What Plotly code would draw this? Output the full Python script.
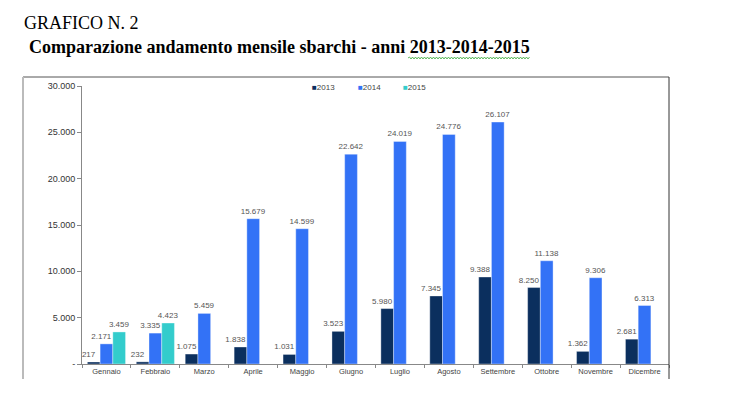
import plotly.graph_objects as go

# ---- data ----
months = ["Gennaio", "Febbraio", "Marzo", "Aprile", "Maggio", "Giugno",
          "Luglio", "Agosto", "Settembre", "Ottobre", "Novembre", "Dicembre"]
y2013 = [217, 232, 1075, 1838, 1031, 3523, 5980, 7345, 9388, 8250, 1362, 2681]
y2014 = [2171, 3335, 5459, 15679, 14599, 22642, 24019, 24776, 26107, 11138, 9306, 6313]
y2015 = [3459, 4423, None, None, None, None, None, None, None, None, None, None]
series_names = ["2013", "2014", "2015"]
series_colors = ["#0B2F5E", "#3372F6", "#33CCCC"]
ytick_vals = [0, 5000, 10000, 15000, 20000, 25000, 30000]
ytick_text = ["-", "5.000", "10.000", "15.000", "20.000", "25.000", "30.000"]

# page body has an 8px margin; figure is laid out in page (screen) pixels
OFF = 8
W, H = 737 - OFF, 399 - OFF
ML, MR, MT, MB = 82 - OFF, 68, 86 - OFF, 35
PW, PH = W - ML - MR, H - MT - MB


def px(xs):
    return (xs - OFF - ML) / PW


def py(ys):
    return (H - MB - (ys - OFF)) / PH


BW = 0.26
offsets = [-1.5 * BW, -0.5 * BW, 0.5 * BW]
# Excel nudges a label left when the bar to its right would cover it
NUDGE = 0.1
label_offsets = [
    [offsets[0] - NUDGE] * len(months),
    [offsets[1] - (NUDGE if v15 is not None else 0) for v15 in y2015],
    [offsets[2]] * len(months),
]

fig = go.Figure()
all_vals = [y2013, y2014, y2015]
# bars
for name, vals, col, off in zip(series_names, all_vals, series_colors, offsets):
    fig.add_trace(go.Bar(
        x=months, y=vals, name=name, width=BW, offset=off,
        marker=dict(color=col, line=dict(color="rgba(255,255,255,0.6)", width=0.6)),
        showlegend=False,
    ))
# data labels drawn on top of all bars
for name, vals, loff in zip(series_names, all_vals, label_offsets):
    fig.add_trace(go.Bar(
        x=months, y=vals, name=name + " etichette", width=BW, offset=loff,
        marker=dict(color="rgba(0,0,0,0)", line=dict(width=0)),
        texttemplate="%{y:,}", textposition="outside",
        textfont=dict(family="Liberation Sans, Arial", size=8, color="#555555"),
        constraintext="none", cliponaxis=False, showlegend=False, hoverinfo="skip",
    ))

annotations = [
    dict(text="GRAFICO N. 2", x=px(22), y=py(23), xref="paper", yref="paper",
         xanchor="left", yanchor="middle", showarrow=False,
         font=dict(family="Liberation Serif, Times New Roman", size=18, color="#000000")),
    dict(text="<b>Comparazione andamento mensile sbarchi - anni 2013-2014-2015</b>",
         x=px(27), y=py(47), xref="paper", yref="paper",
         xanchor="left", yanchor="middle", showarrow=False,
         font=dict(family="Liberation Serif, Times New Roman", size=18, color="#000000")),
]
# legend built as text annotations
leg_x = [310, 356, 401]
for name, col, lx in zip(series_names, series_colors, leg_x):
    annotations.append(dict(
        text=f"<span style='color:{col}'>■</span>{name}",
        x=px(lx), y=py(88), xref="paper", yref="paper",
        xanchor="left", yanchor="middle", showarrow=False,
        font=dict(family="Liberation Sans, Arial", size=8, color="#444444")))

# wavy spell-check underline (decoration)
wave = f"M {px(408)} {py(58)}"
xx = 408
up = True
while xx < 529:
    xx += 1.5
    wave += f" L {px(xx)} {py(57 if up else 59)}"
    up = not up

shapes = [
    dict(type="line", xref="paper", yref="paper", x0=px(23), x1=px(669), y0=py(77), y1=py(77),
         line=dict(color="#555555", width=1)),
    dict(type="line", xref="paper", yref="paper", x0=px(23), x1=px(23), y0=py(77), y1=py(379),
         line=dict(color="#BBBBBB", width=2)),
    dict(type="line", xref="paper", yref="paper", x0=px(669), x1=px(669), y0=py(77), y1=py(379),
         line=dict(color="#333333", width=1)),
    dict(type="path", xref="paper", yref="paper", path=wave,
         line=dict(color="#3AAA3A", width=0.8)),
]

fig.update_layout(
    width=W, height=H,
    margin=dict(l=ML, r=MR, t=MT, b=MB),
    paper_bgcolor="white", plot_bgcolor="white",
    barmode="overlay",
    separators=",.",
    showlegend=False,
    annotations=annotations, shapes=shapes,
    xaxis=dict(showline=True, linecolor="#888888", linewidth=1,
               ticks="outside", tickson="boundaries", ticklen=3, tickcolor="#888888",
               tickfont=dict(family="Liberation Sans, Arial", size=7.5, color="#444444"),
               showgrid=False, range=[-0.5, 11.5]),
    yaxis=dict(range=[0, 30000], tickvals=ytick_vals, ticktext=ytick_text,
               showline=True, linecolor="#888888", linewidth=1,
               ticks="outside", ticklen=4, tickcolor="#888888",
               tickfont=dict(family="Liberation Sans, Arial", size=9, color="#333333"),
               showgrid=False, zeroline=False),
)

fig.write_html("out.html")
